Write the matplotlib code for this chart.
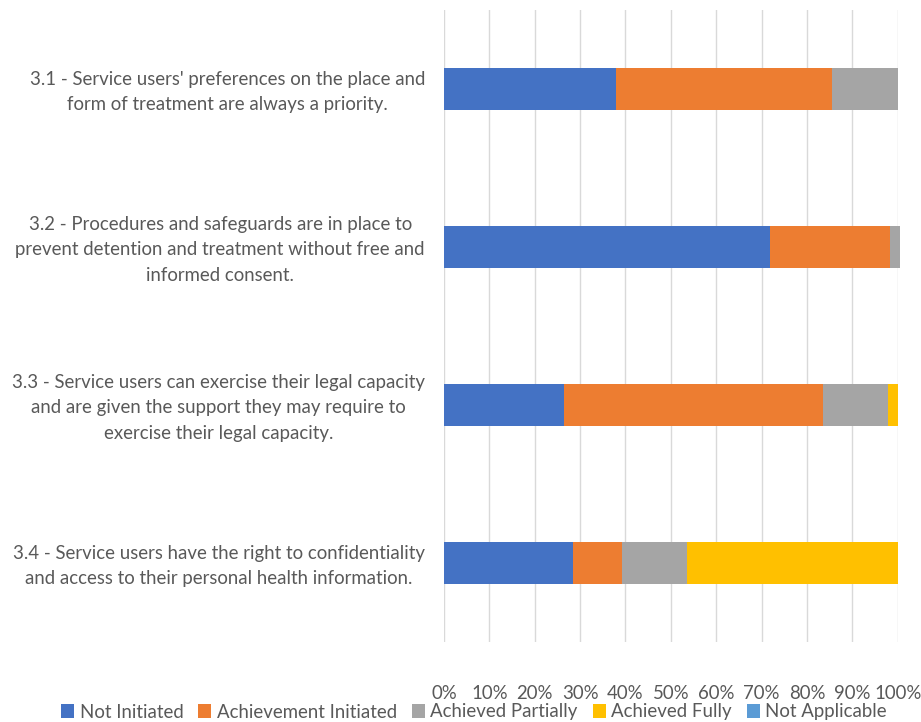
import numpy as np
import matplotlib
matplotlib.use("Agg")
import matplotlib.pyplot as plt
import matplotlib.transforms as mtransforms

# categories (top to bottom)
categories = [
    "3.1 - Service users' preferences on the place and\nform of treatment are always a priority.",
    "3.2 - Procedures and safeguards are in place to\nprevent detention and treatment without free and\ninformed consent.",
    "3.3 - Service users can exercise their legal capacity\nand are given the support they may require to\nexercise their legal capacity.",
    "3.4 - Service users have the right to confidentiality\nand access to their personal health information.",
]

series_names = ["Not Initiated", "Achievement Initiated", "Achieved Partially",
                "Achieved Fully", "Not Applicable"]
not_initiated = [37.9, 71.9, 26.5, 28.4]
achievement_initiated = [47.7, 26.3, 57.1, 10.8]
achieved_partially = [14.4, 2.2, 14.3, 14.3]
achieved_fully = [0.0, 0.0, 2.1, 46.5]
not_applicable = [0.0, 0.0, 0.0, 0.0]

colors = ["#4472C4", "#ED7D31", "#A5A5A5", "#FFC000", "#5B9BD5"]
text_color = "#595959"

plt.rcParams['font.family'] = ['Lato', 'DejaVu Sans']

fig = plt.figure(figsize=(9.21, 7.22), dpi=100)
ax = fig.add_axes([444 / 921, 1 - 642 / 722, (897.7 - 444) / 921, (642 - 10) / 722])

y = np.arange(len(categories))
left = np.zeros(len(categories))
all_series = [not_initiated, achievement_initiated, achieved_partially,
              achieved_fully, not_applicable]
for name, vals, c in zip(series_names, all_series, colors):
    vals = np.array(vals) / 100.0
    ax.barh(y, vals, left=left, height=0.26, color=c, label=name, zorder=3,
            clip_on=False)
    left += vals

ax.set_xlim(0, 1)
ax.set_ylim(len(categories) - 0.5, -0.5)
ticks = np.arange(0, 1.01, 0.1)
ax.set_xticks(ticks)
ax.set_xticklabels([f"{int(round(t * 100))}%" for t in ticks])
ax.grid(axis="x", color="#D9D9D9", linewidth=1, zorder=0)
for s in ax.spines.values():
    s.set_visible(False)
ax.tick_params(axis="x", length=0, pad=31, labelsize=13.4, labelcolor=text_color)
ax.tick_params(axis="y", length=0, pad=13.7, labelsize=13.4, labelcolor=text_color)
ax.set_yticks(y)
ax.set_yticklabels(categories, ha="right", multialignment="center", linespacing=1.6)
# nudge category labels up a little
shift = mtransforms.ScaledTranslation(0, 3 / 100, fig.dpi_scale_trans)
for lab in ax.get_yticklabels():
    lab.set_transform(lab.get_transform() + shift)

handles, labels = ax.get_legend_handles_labels()
fig.legend(handles, labels, loc="center", bbox_to_anchor=(474 / 921, 1 - 712 / 722),
           ncol=5, frameon=False, fontsize=13.4, labelcolor=text_color,
           handlelength=0.7, handleheight=0.7, handletextpad=0.3, columnspacing=0.8)

fig.savefig("out.png", dpi=100)
